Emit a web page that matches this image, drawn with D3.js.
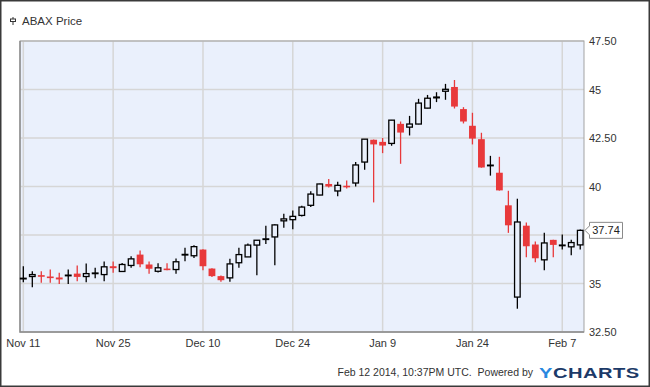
<!DOCTYPE html>
<html>
<head>
<meta charset="utf-8">
<script src="https://cdn.jsdelivr.net/npm/d3@7"></script>
<style>
  body { margin: 0; background: #fff; }
  text { font-family: "Liberation Sans", Arial, sans-serif; }
</style>
</head>
<body>
<div id="container"></div>
<script>
// trading days shown on the chart
const dates = [
  "2013-11-11","2013-11-12","2013-11-13","2013-11-14","2013-11-15",
  "2013-11-18","2013-11-19","2013-11-20","2013-11-21","2013-11-22",
  "2013-11-25","2013-11-26","2013-11-27","2013-11-29","2013-12-02",
  "2013-12-03","2013-12-04","2013-12-05","2013-12-06","2013-12-09",
  "2013-12-10","2013-12-11","2013-12-12","2013-12-13","2013-12-16",
  "2013-12-17","2013-12-18","2013-12-19","2013-12-20","2013-12-23",
  "2013-12-24","2013-12-26","2013-12-27","2013-12-30","2013-12-31",
  "2014-01-02","2014-01-03","2014-01-06","2014-01-07","2014-01-08",
  "2014-01-09","2014-01-10","2014-01-13","2014-01-14","2014-01-15",
  "2014-01-16","2014-01-17","2014-01-21","2014-01-22","2014-01-23",
  "2014-01-24","2014-01-27","2014-01-28","2014-01-29","2014-01-30",
  "2014-01-31","2014-02-03","2014-02-04","2014-02-05","2014-02-06",
  "2014-02-07","2014-02-10","2014-02-11"
];
const open = [
  35.25,35.36,35.43,35.36,35.31,35.41,35.51,35.36,35.52,35.46,
  35.89,35.62,35.93,36.49,35.98,35.63,35.77,35.72,36.48,36.43,
  36.75,35.77,35.38,35.29,36.07,36.37,36.98,37.27,37.40,38.23,
  38.29,38.51,39.03,39.56,40.13,39.77,40.04,40.18,41.26,42.41,
  42.30,42.22,43.23,43.06,43.22,44.04,44.57,44.91,45.13,43.99,
  43.13,42.44,41.08,40.71,39.03,34.30,37.98,37.01,36.22,37.25,
  36.95,36.89,36.99
];
const high = [
  35.89,35.63,35.63,35.72,35.55,35.72,35.93,36.03,35.81,36.13,
  36.13,36.06,36.40,36.70,36.13,36.05,36.05,36.29,36.84,36.97,
  36.76,35.78,35.41,36.27,36.84,37.06,37.24,37.98,38.05,38.59,
  38.76,39.01,39.75,40.14,40.39,40.24,40.31,41.26,42.45,42.42,
  42.50,43.43,43.35,43.64,44.52,44.72,44.86,45.29,45.49,44.09,
  43.80,42.77,41.58,41.53,39.78,39.37,38.14,37.16,37.62,37.26,
  37.52,37.25,37.78
];
const low = [
  35.07,34.81,35.04,35.04,34.98,34.98,35.12,35.07,35.27,35.12,
  35.55,35.60,35.81,35.84,35.50,35.57,35.68,35.50,36.15,36.32,
  35.68,35.33,35.09,35.09,35.81,36.36,35.43,37.04,35.94,37.87,
  37.80,38.46,38.94,39.55,39.95,39.50,39.90,40.00,40.86,39.18,
  41.72,42.10,41.17,42.63,43.21,44.03,44.35,44.47,44.02,43.25,
  42.17,40.97,40.56,39.79,37.61,33.70,36.35,36.10,35.68,36.35,
  36.75,36.46,36.75
];
const close = [
  35.27,35.46,35.35,35.33,35.21,35.43,35.34,35.51,35.54,35.86,
  35.79,35.98,36.27,35.99,35.76,35.81,35.74,36.12,36.50,36.90,
  35.89,35.38,35.17,36.01,36.49,36.98,37.23,37.30,38.02,38.33,
  38.46,38.94,39.61,40.13,40.00,40.06,39.99,41.11,42.44,42.17,
  42.11,43.42,42.78,43.22,44.30,44.55,44.61,45.01,44.12,43.35,
  42.47,40.98,41.10,39.80,38.00,38.17,36.92,36.30,37.09,36.99,
  36.98,37.11,37.74
];
const xTickDates = ["2013-11-11","2013-11-25","2013-12-10","2013-12-24","2014-01-09","2014-01-24","2014-02-07"];
const yTicks = [32.5, 35, 37.5, 40, 42.5, 45, 47.5];
const title = "ABAX Price";
const stamp = "Feb 12 2014, 10:37PM UTC.  Powered by";

const specs = { width: 650, height: 387, margin: { top: 41, right: 66, bottom: 55, left: 20 } };
const bg = "#eaf0fc";
const red = "#e8393b";

const svg = d3.select('#container')
    .append('svg').attr('width', specs.width).attr('height', specs.height)

const plotL = specs.margin.left;
const plotR = specs.width - specs.margin.right;
const plotT = specs.margin.top;
const plotB = specs.height - specs.margin.bottom;

const xScale = d3.scaleLinear().domain([-0.37, 62.42]).range([plotL, plotR]);
const yScale = d3.scaleLinear().domain([32.5, 47.5]).range([plotB, plotT]);

// outer frame
svg.append('rect')
    .attr('x', 0.75).attr('y', 0.75)
    .attr('width', specs.width - 1.5).attr('height', specs.height - 1.5)
    .attr('fill', '#fff').attr('stroke', '#3a3a3a').attr('stroke-width', 1.5)

// plot background
svg.append('rect')
    .attr('x', plotL).attr('y', plotT)
    .attr('width', plotR - plotL).attr('height', plotB - plotT)
    .attr('fill', bg)

// grid
svg.append('g').selectAll('line').data(yTicks).join('line')
    .attr('x1', plotL).attr('x2', plotR)
    .attr('y1', d => yScale(d)).attr('y2', d => yScale(d))
    .attr('stroke', '#d6d6d6').attr('stroke-width', 1.5)

const tickIdx = xTickDates.map(d => dates.indexOf(d));
svg.append('g').selectAll('line').data(tickIdx).join('line')
    .attr('x1', d => xScale(d)).attr('x2', d => xScale(d))
    .attr('y1', plotT).attr('y2', plotB)
    .attr('stroke', '#d6d6d6').attr('stroke-width', 1.5)

// plot border
svg.append('rect')
    .attr('x', plotL).attr('y', plotT)
    .attr('width', plotR - plotL).attr('height', plotB - plotT)
    .attr('fill', 'none').attr('stroke', '#a3a3a3').attr('stroke-width', 1)
svg.append('path')
    .attr('d', `M${plotL},${plotT}V${plotB}H${plotR}`)
    .attr('fill', 'none').attr('stroke', '#8e8e8e').attr('stroke-width', 1.5)

// candles
const candles = dates.map((d, i) => ({ i, o: open[i], h: high[i], l: low[i], c: close[i] }));
const g = svg.append('g');
g.selectAll('line.wick').data(candles).join('line')
    .attr('class', 'wick')
    .attr('x1', d => xScale(d.i)).attr('x2', d => xScale(d.i))
    .attr('y1', d => yScale(d.h)).attr('y2', d => yScale(d.l))
    .attr('stroke', d => d.c >= d.o ? '#000' : red)
    .attr('stroke-width', 1.3)

const up = candles.filter(d => d.c >= d.o);
const down = candles.filter(d => d.c < d.o);
g.selectAll('rect.up').data(up).join('rect')
    .attr('class', 'up')
    .attr('x', d => xScale(d.i) - 2.8).attr('width', 5.6)
    .attr('y', d => yScale(d.c))
    .attr('height', d => Math.max(0.6, yScale(d.o) - yScale(d.c)))
    .attr('fill', bg).attr('stroke', '#000').attr('stroke-width', 1.3)
g.selectAll('rect.down').data(down).join('rect')
    .attr('class', 'down')
    .attr('x', d => xScale(d.i) - 3.4).attr('width', 6.8)
    .attr('y', d => yScale(d.o))
    .attr('height', d => Math.max(1.6, yScale(d.c) - yScale(d.o)))
    .attr('fill', red)

// axis labels
const fmt = d3.timeFormat('%b %-d');
const parse = d3.timeParse('%Y-%m-%d');
svg.append('g').selectAll('text').data(xTickDates).join('text')
    .attr('x', d => xScale(dates.indexOf(d)))
    .attr('y', plotB + 15)
    .attr('text-anchor', 'middle')
    .attr('font-size', 11).attr('fill', '#333')
    .text(d => fmt(parse(d)))

const last = close[close.length - 1];
const lastY = yScale(last);
svg.append('g').selectAll('text').data(yTicks.filter(d => Math.abs(yScale(d) - lastY) > 10)).join('text')
    .attr('x', plotR + 5)
    .attr('y', d => yScale(d) + 4)
    .attr('font-size', 11).attr('fill', '#333')
    .text(d => Number.isInteger(d) ? d : d.toFixed(2))

// last price flag
const fx = plotR + 5.5;
svg.append('path')
    .attr('d', `M${plotR + 1},${lastY} L${fx},${lastY - 4.5} V${lastY - 8} H${fx + 33} V${lastY + 8} H${fx} V${lastY + 4.5} Z`)
    .attr('fill', '#fff').attr('stroke', '#8a8a8a').attr('stroke-width', 1)
svg.append('text')
    .attr('x', fx + 16.5).attr('y', lastY + 4)
    .attr('text-anchor', 'middle')
    .attr('font-size', 11).attr('fill', '#222')
    .text(last.toFixed(2))

// title with small candle icon
svg.append('line').attr('x1', 13).attr('x2', 13).attr('y1', 17).attr('y2', 25)
    .attr('stroke', '#333').attr('stroke-width', 1)
svg.append('rect').attr('x', 10.5).attr('y', 19).attr('width', 5).attr('height', 2.5)
    .attr('fill', '#fff').attr('stroke', '#333').attr('stroke-width', 1)
svg.append('text')
    .attr('x', 22).attr('y', 25)
    .attr('font-size', 11.5).attr('fill', '#333')
    .text(title)

// footer
svg.append('text')
    .attr('x', 533).attr('y', 376)
    .attr('text-anchor', 'end')
    .attr('font-size', 10.5).attr('fill', '#333')
    .style('white-space', 'pre')
    .text(stamp)
const logo = svg.append('text')
    .attr('transform', 'translate(539,378) scale(1.3,1)')
    .attr('font-size', 15.5).attr('font-weight', 'bold')
    .attr('textLength', 77).attr('lengthAdjust', 'spacing')
logo.append('tspan').attr('fill', '#2a88e0').text('Y')
logo.append('tspan').attr('fill', '#1c3a68').text('CHARTS')
</script>
</body>
</html>
